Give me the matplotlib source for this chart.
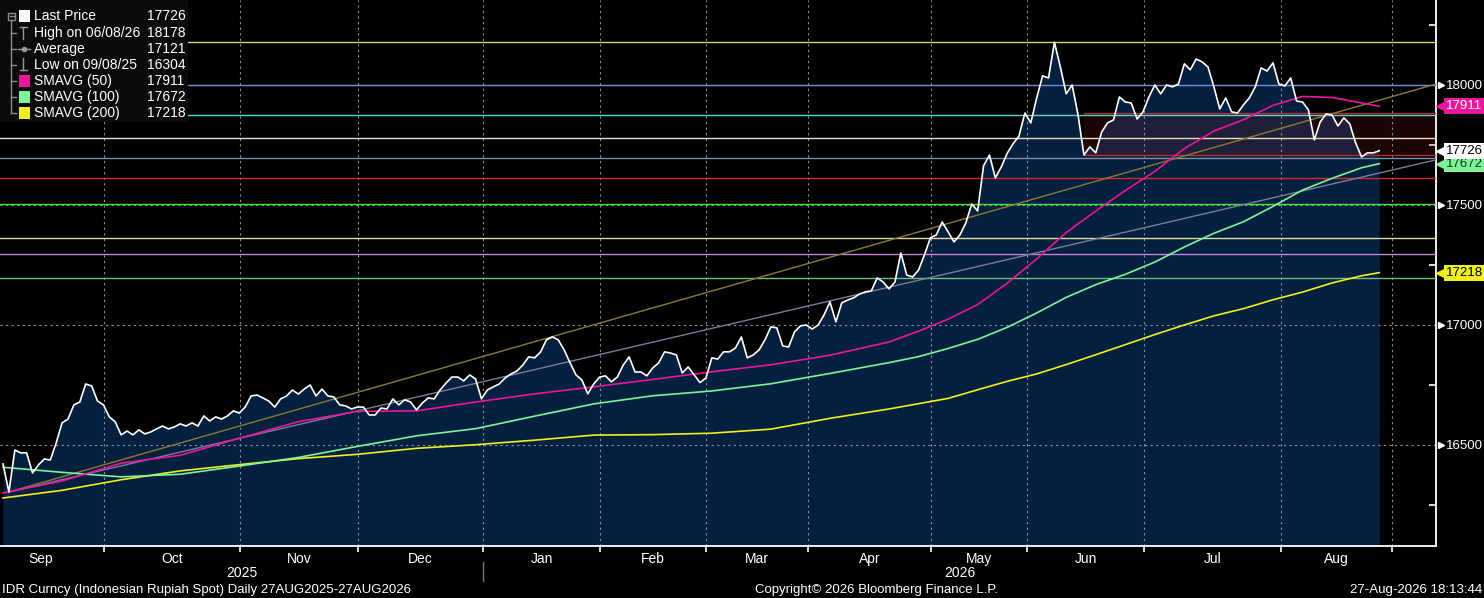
import numpy as np
import matplotlib
matplotlib.use('Agg')
import matplotlib.pyplot as plt
import matplotlib.transforms as mtransforms
from matplotlib.patches import Rectangle
from matplotlib.lines import Line2D

# daily IDR spot, one value per trading day (index 0 = first visible day)
price = [
    16421, 16304, 16479, 16467, 16467, 16383, 16417, 16442, 16437, 16508,
    16592, 16608, 16667, 16679, 16754, 16746, 16683, 16667, 16617, 16596,
    16542, 16558, 16542, 16563, 16546, 16554, 16567, 16579, 16567, 16575,
    16588, 16579, 16592, 16579, 16621, 16600, 16617, 16608, 16621, 16642,
    16633, 16658, 16704, 16708, 16696, 16683, 16658, 16692, 16704, 16729,
    16712, 16733, 16750, 16704, 16733, 16704, 16700, 16667, 16663, 16650,
    16658, 16658, 16625, 16625, 16654, 16650, 16692, 16667, 16688, 16679,
    16646, 16675, 16696, 16692, 16729, 16758, 16783, 16783, 16767, 16792,
    16775, 16692, 16729, 16742, 16754, 16779, 16796, 16808, 16833, 16867,
    16863, 16887, 16938, 16950, 16938, 16896, 16842, 16792, 16771, 16713,
    16754, 16783, 16788, 16763, 16783, 16833, 16867, 16804, 16804, 16788,
    16821, 16842, 16888, 16883, 16875, 16800, 16825, 16792, 16760, 16779,
    16863, 16858, 16888, 16888, 16904, 16950, 16863, 16875, 16896, 16938,
    16992, 16988, 16913, 16908, 16971, 16996, 17000, 16983, 17000, 17042,
    17096, 17013, 17092, 17104, 17113, 17129, 17138, 17142, 17196, 17179,
    17150, 17179, 17300, 17208, 17200, 17229, 17292, 17363, 17375, 17429,
    17388, 17346, 17375, 17425, 17504, 17475, 17663, 17708, 17613, 17658,
    17715, 17755, 17787, 17883, 17842, 17946, 18038, 18029, 18178, 18075,
    17963, 18000, 17875, 17708, 17742, 17717, 17804, 17842, 17854, 17950,
    17929, 17925, 17858, 17888, 17950, 18000, 17963, 18000, 17992, 18004,
    18088, 18063, 18108, 18096, 18075, 17992, 17900, 17946, 17888, 17883,
    17917, 17946, 17992, 18071, 18058, 18092, 18004, 17996, 18029, 17933,
    17929, 17896, 17771, 17846, 17879, 17875, 17829, 17863, 17838, 17758,
    17700, 17717, 17717, 17726,
]

# moving averages read at these day indices
sma_days = [0, 10, 20, 30, 40, 50, 60, 70, 80, 90, 100, 110, 120, 130, 140, 150,
            155, 160, 165, 170, 175, 180, 185, 190, 195, 200, 205, 210, 215, 220,
            225, 230, 233]
sma50 = [16300, 16350, 16424, 16457, 16528, 16597, 16640, 16642, 16679, 16713,
         16742, 16773, 16805, 16834, 16874, 16929, 16974, 17024, 17085, 17174,
         17275, 17385, 17475, 17560, 17640, 17735, 17808, 17855, 17915, 17952,
         17948, 17925, 17911]
sma100 = [16407, 16386, 16367, 16378, 16412, 16448, 16494, 16538, 16568, 16620,
          16671, 16705, 16725, 16755, 16798, 16843, 16868, 16902, 16940, 16990,
          17050, 17115, 17168, 17211, 17262, 17325, 17382, 17430, 17494, 17562,
          17611, 17655, 17672]
sma200 = [16279, 16311, 16355, 16392, 16418, 16443, 16461, 16486, 16501, 16520,
          16541, 16543, 16549, 16566, 16611, 16650, 16672, 16694, 16730, 16765,
          16796, 16835, 16876, 16918, 16960, 17000, 17038, 17068, 17105, 17137,
          17175, 17205, 17218]

# horizontal study lines
levels = [18178, 18000, 17875, 17779, 17696, 17612, 17504, 17363, 17296, 17196]
level_colors = ['#d6d66e', '#6f8fd8', '#5fd3d3', '#e8dcc0', '#7f8ea8',
                '#d82828', '#3ee83e', '#dcd8a8', '#c283d8', '#6fbf7f']

# shaded range box
box_start = 183
box_lo, box_hi = 17708, 17885

# trend lines from the low
trend_days = [1, 242.6]
trend_upper = [16304, 18004]
trend_lower = [16304, 17688]

month_names = ['Sep', 'Oct', 'Nov', 'Dec', 'Jan', 'Feb', 'Mar', 'Apr', 'May',
               'Jun', 'Jul', 'Aug']
month_starts = [-4.2, 17.1, 40.1, 60.1, 81.3, 101.1, 119.0, 136.3, 157.1,
                173.4, 193.2, 216.4, 235.2]
years = ['2025', '2026']

legend_rows = [('Last Price', '17726'), ('High on 06/08/26', '18178'),
               ('Average', '17121'), ('Low on 09/08/25', '16304'),
               ('SMAVG (50)', '17911'), ('SMAVG (100)', '17672'),
               ('SMAVG (200)', '17218')]

c50, c100, c200 = '#e8179c', '#7cf59a', '#f0f020'
navy = '#051f3e'
font = 'Liberation Sans'

W, H = 1484, 598
fig = plt.figure(figsize=(W / 100, H / 100), dpi=100, facecolor='black')
ax = fig.add_axes([0, 52 / H, 1436 / W, 546 / H])
ax.set_facecolor('black')

days = np.arange(len(price))
x0, x1 = -0.51, 242.6
y0, y1 = 16079, 18354
ax.set_xlim(x0, x1)
ax.set_ylim(y0, y1)

ax.fill_between(days, price, y0, color=navy, lw=0, zorder=1)
ax.add_patch(Rectangle((box_start, box_lo), x1 - box_start, box_hi - box_lo,
                       facecolor='#b02020', alpha=0.16, lw=0, zorder=2))
ax.plot([box_start, x1], [box_hi, box_hi], color='#b03030', lw=1, zorder=3)
ax.plot([box_start, x1], [box_lo, box_lo], color='#b03030', lw=1, zorder=3)

for lv, col in zip(levels, level_colors):
    ax.axhline(lv, color=col, lw=1, zorder=3)

# grid
for m in month_starts[1:]:
    ax.axvline(m, color='#8a93a0', lw=0.8, ls=(0, (2, 3)), zorder=2.5)
for gv in [16500, 17000, 17500, 18000]:
    ax.axhline(gv, color='#8a93a0', lw=0.8, ls=(0, (2, 3)), zorder=2.5)

ax.plot(trend_days, trend_upper, color='#8c7a32', lw=1, zorder=4)
ax.plot(trend_days, trend_lower, color='#7c7c9c', lw=1, zorder=4)

ax.plot(sma_days, sma200, color=c200, lw=1.2, zorder=5)
ax.plot(sma_days, sma100, color=c100, lw=1.2, zorder=5)
ax.plot(sma_days, sma50, color=c50, lw=1.2, zorder=5)
ax.plot(days, price, color='white', lw=1.2, zorder=6)

# axes frame
for s in ['left', 'top']:
    ax.spines[s].set_visible(False)
for s in ['right', 'bottom']:
    ax.spines[s].set_color('white')
    ax.spines[s].set_linewidth(1.3)

ax.yaxis.tick_right()
ax.set_yticks([16500, 17000, 17500, 18000])
ax.set_yticks([16250, 16750, 17250, 17750, 18250], minor=True)
ax.tick_params(axis='y', which='major', length=0, pad=7.5, labelsize=9.5,
               labelcolor='white', labelfontfamily=font)
ax.tick_params(axis='y', which='minor', length=5, width=1.2, color='white',
               direction='in')

ytrans = mtransforms.blended_transform_factory(ax.transAxes, ax.transData)
for gv in [16500, 17000, 17500, 18000]:
    ax.plot([1.0035], [gv], marker='>', ms=5, color='white', transform=ytrans,
            clip_on=False, zorder=10)

ax.set_xticks(month_starts[1:])
ax.set_xticklabels([])
mids = [(a + b) / 2 for a, b in zip(month_starts[:-1], month_starts[1:])]
ax.set_xticks(mids, minor=True)
ax.set_xticklabels(month_names, minor=True)
ax.tick_params(axis='x', which='major', length=4, width=1.2, color='white')
ax.tick_params(axis='x', which='minor', length=0, pad=4, labelsize=10,
               labelcolor='white', labelfontfamily=font)

# value tags on the right
tags = [(17911, c50, 'white'), (17218, c200, 'black'),
        (17672, c100, '#103010'), (17726, 'white', 'black')]
for v, fc, tc in tags:
    ax.plot([1.0045], [v], marker='<', ms=8, color=fc, transform=ytrans,
            clip_on=False, zorder=11)
    ax.text(1.0072, v, str(v), transform=ytrans, ha='left', va='center',
            fontsize=9.5, color=tc, family=font, zorder=12,
            bbox=dict(boxstyle='square,pad=0.15', fc=fc, ec='none'))

# year row and footer
def fx(px):
    return px / W

def fy(py):
    return 1 - py / H

ax_l, ax_r = 0, 1436
jan_px = (month_starts[4] - x0) / (x1 - x0) * 1436
fig.text(fx((ax_l + jan_px) / 2), fy(573), years[0], color='white', fontsize=10,
         ha='center', va='center', family=font)
fig.text(fx((jan_px + ax_r) / 2), fy(573), years[1], color='white', fontsize=10,
         ha='center', va='center', family=font)
fig.add_artist(Line2D([fx(jan_px)] * 2, [fy(562), fy(581)], color='#777777', lw=1))

fig.text(fx(2), fy(590), 'IDR Curncy (Indonesian Rupiah Spot) Daily 27AUG2025-27AUG2026',
         color='white', fontsize=9.5, ha='left', va='center', family=font)
fig.text(fx(755), fy(590), 'Copyright\u00a9 2026 Bloomberg Finance L.P.',
         color='white', fontsize=9.5, ha='left', va='center', family=font)
fig.text(fx(1482), fy(590), '27-Aug-2026 18:13:44', color='white', fontsize=9.5,
         ha='right', va='center', family=font)

# legend panel
fig.add_artist(Rectangle((0, fy(122)), fx(188), 122 / H, facecolor='#0b0b0b',
                         edgecolor='none', transform=fig.transFigure, zorder=20))
row_y = [16, 33, 49, 65, 81, 97, 113]
tree = '#8c8c8c'
fig.add_artist(Line2D([fx(11), fx(11)], [fy(20), fy(113)], color=tree, lw=1, zorder=21))
fig.add_artist(Rectangle((fx(8), fy(19.5)), 7 / W, 7 / H, facecolor='none',
                         edgecolor=tree, lw=1, transform=fig.transFigure, zorder=21))
fig.add_artist(Line2D([fx(9.5), fx(13.5)], [fy(16), fy(16)], color=tree, lw=1, zorder=21))
for ry in row_y[1:]:
    fig.add_artist(Line2D([fx(11), fx(16)], [fy(ry), fy(ry)], color=tree, lw=1, zorder=21))

swatches = {0: 'white', 4: c50, 5: c100, 6: c200}
for i, (name, val) in enumerate(legend_rows):
    ry = row_y[i]
    if i in swatches:
        fig.add_artist(Rectangle((fx(19), fy(ry + 6)), 11 / W, 12 / H,
                                 facecolor=swatches[i], edgecolor='none',
                                 transform=fig.transFigure, zorder=21))
    fig.text(fx(34), fy(ry), name, color='white', fontsize=10, ha='left',
             va='center', family=font, zorder=22)
    fig.text(fx(147), fy(ry), val, color='white', fontsize=10, ha='left',
             va='center', family=font, zorder=22)

icon = '#9a9a9a'
# high marker
fig.add_artist(Line2D([fx(20), fx(27)], [fy(27), fy(27)], color=icon, lw=1, zorder=21))
fig.add_artist(Line2D([fx(23.5), fx(23.5)], [fy(27), fy(39)], color=icon, lw=1, zorder=21))
# average marker
fig.add_artist(Line2D([fx(18), fx(30)], [fy(49), fy(49)], color=icon, lw=1, zorder=21))
fig.add_artist(Line2D([fx(24)], [fy(49)], marker='o', ms=3, color=icon, zorder=21))
# low marker
fig.add_artist(Line2D([fx(23.5), fx(23.5)], [fy(58), fy(70)], color=icon, lw=1, zorder=21))
fig.add_artist(Line2D([fx(20), fx(27)], [fy(70), fy(70)], color=icon, lw=1, zorder=21))

fig.savefig('out.png', dpi=100, facecolor='black')
